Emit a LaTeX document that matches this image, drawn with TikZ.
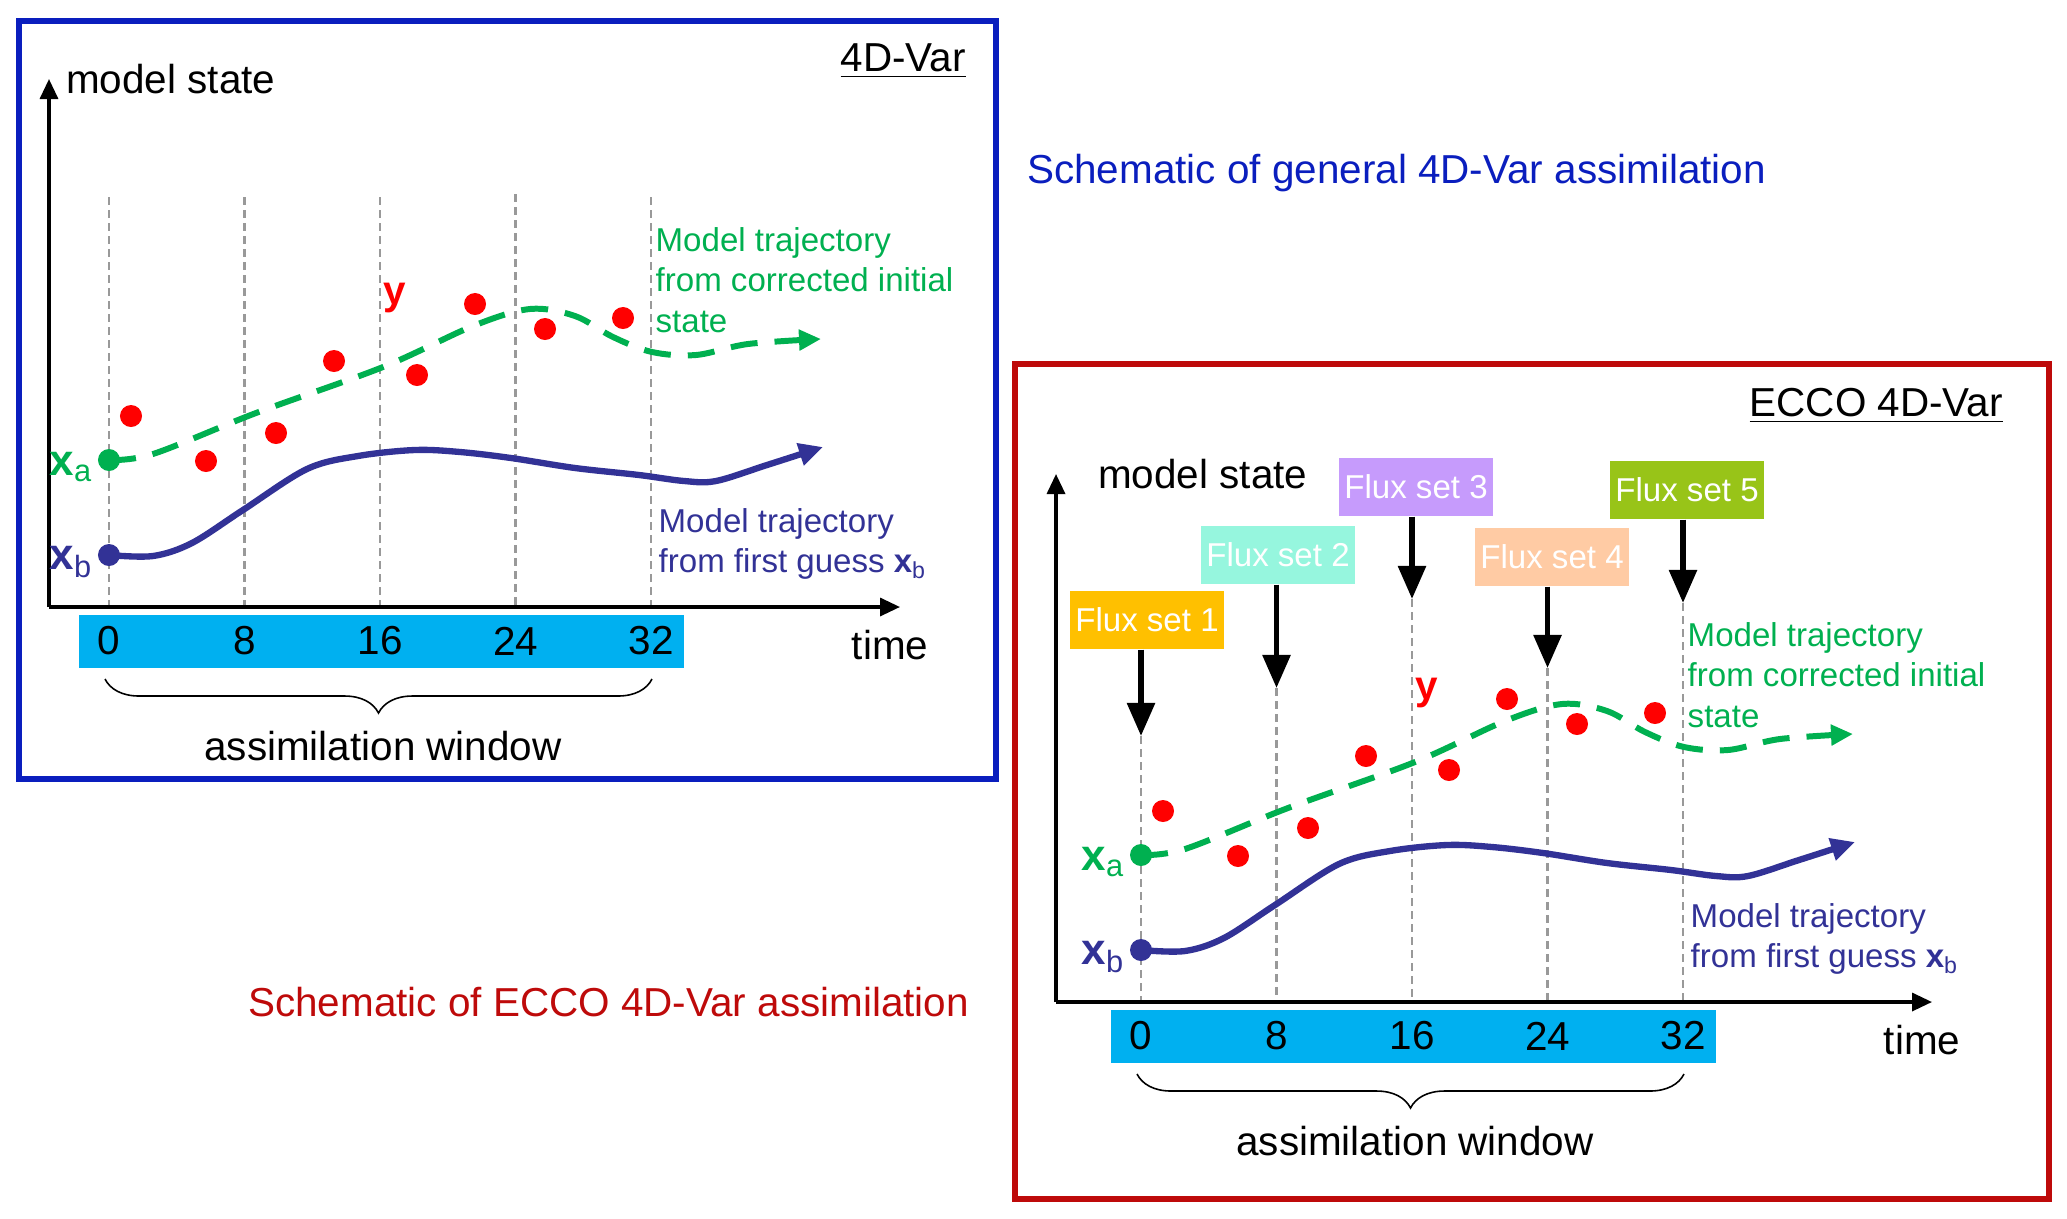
\documentclass[tikz,border=0pt]{standalone}
\usepackage{fontspec}
\setmainfont{Liberation Sans}
\usetikzlibrary{arrows.meta,positioning,decorations.pathreplacing}

\definecolor{frameblue}{RGB}{10,30,190}
\definecolor{framered}{RGB}{190,10,10}
\definecolor{trajgreen}{RGB}{0,176,80}
\definecolor{trajblue}{RGB}{50,50,150}
\definecolor{barcyan}{RGB}{0,176,240}
\definecolor{obsred}{RGB}{255,0,0}
\definecolor{fluxone}{RGB}{255,192,0}
\definecolor{fluxtwo}{RGB}{150,246,222}
\definecolor{fluxthree}{RGB}{198,155,252}
\definecolor{fluxfour}{RGB}{255,203,164}
\definecolor{fluxfive}{RGB}{152,196,24}

\newcommand{\bigsize}{\fontsize{11.5}{13.5}\selectfont}
\newcommand{\smallsize}{\fontsize{9.4}{11.5}\selectfont}

\tikzset{
	axis/.style={line width=0.95pt,-{Triangle[width=0.18cm,length=0.2cm]}},
	vline/.style={black!40,line width=0.75pt,dash pattern=on 0.08cm off 0.05cm},
	greentraj/.style={trajgreen,line width=1.7pt,dash pattern=on 0.27cm off 0.17cm,-{Triangle[width=0.2cm,length=0.22cm]}},
	bluetraj/.style={trajblue,line width=1.8pt,-{Triangle[width=0.22cm,length=0.24cm]}},
	startdot/.style={circle,inner sep=0pt,minimum size=0.22cm},
	obsdot/.style={circle,fill=obsred,inner sep=0pt,minimum size=0.22cm},
	bigtext/.style={font=\bigsize,inner sep=1pt},
	smalltext/.style={font=\smallsize,align=left,inner sep=0pt},
	startlabel/.style={font=\fontsize{12.5}{14}\selectfont,inner sep=1pt},
	fluxbox/.style={font=\smallsize,text=white,minimum width=1.54cm,minimum height=0.58cm,inner sep=0pt},
	fluxarrow/.style={line width=1.6pt,-{Triangle[width=0.27cm,length=0.33cm]}},
	windowbrace/.style={decorate,decoration={brace,mirror,amplitude=0.34cm},line width=0.45pt},
	frame/.style={line width=1.7pt}
}

% one schematic panel, origin at x_a; #2 = x of the state axis, #3 = tops of the time lines
\newcommand{\assimpanel}[3]{%
	\coordinate (#1origin) at (#2,147);
	\coordinate (#1ytop) at (#2,-381);
	\coordinate (#1xend) at (791,147);
	\foreach \yy [count=\i from 0] in {#3}{
		\coordinate (#1v\i) at (135.5*\i,\yy);
		\draw[vline] (#1v\i) -- (135.5*\i,147);
	}
	\fill[barcyan] (-30,155) rectangle (575,208);
	\foreach \n [count=\i from 0] in {0,8,16,24,32}
		\node[bigtext] (#1num\i) at (135.5*\i,181) {\n};
	\draw[axis] (#1origin) -- (#1ytop);
	\draw[axis] (#1origin) -- (#1xend);
	\node[bigtext,anchor=west] (#1ylabel) at (-47,-381) {model state};
	\node[bigtext] (#1xlabel) at (781,185) {time};
	\coordinate (#1wleft) at (-4,219);
	\coordinate (#1wright) at (543,219);
	\draw[windowbrace] (#1wleft) -- (#1wright);
	\node[bigtext] (#1window) at (274,286) {assimilation window};
	\node[startdot,fill=trajgreen] (#1xa) at (0,0) {};
	\node[startdot,fill=trajblue] (#1xb) at (0,95) {};
	\node[startlabel,text=trajgreen,left=0pt of #1xa,yshift=-2pt] (#1xalabel) {\textbf{x}\textsubscript{a}};
	\node[startlabel,text=trajblue,left=0pt of #1xb,yshift=-2pt] (#1xblabel) {\textbf{x}\textsubscript{b}};
	\draw[bluetraj] plot[smooth,tension=0.55] coordinates {(#1xb.center) (44,96) (83,83) (134,50) (198,9) (249,-4) (306,-10) (351,-8) (402,-2) (466,8) (530,15) (575,21) (607,21) (658,5) (714,-13)};
	\draw[greentraj] plot[smooth,tension=0.55] coordinates {(#1xa.center) (44,-6) (147,-47) (274,-93) (364,-134) (421,-151) (466,-144) (504,-123) (543,-108) (587,-105) (639,-116) (712,-121)};
	\foreach \p [count=\i] in {(22,-44),(97,1),(167,-27),(225,-99),(308,-85),(366,-156),(436,-131),(514,-142)}
		\node[obsdot] (#1obs\i) at \p {};
	\node[bigtext,text=obsred,font=\bigsize\bfseries] (#1obslabel) at (286,-162) {y};
	\node[smalltext,text=trajgreen,anchor=west] (#1greentext) at (546,-180) {Model trajectory\\from corrected initial\\state};
	\node[smalltext,text=trajblue,anchor=west] (#1bluetext) at (549,84) {Model trajectory\\from first guess \textbf{x}\textsubscript{b}};
}

\begin{document}
\begin{tikzpicture}[x=0.01cm,y=-0.01cm]
	\useasboundingbox (0,0) rectangle (2067,1218);

	\draw[frameblue,frame] (19,21) rectangle (996,779);
	\draw[framered,frame] (1015,364) rectangle (2049,1199);
	\node[bigtext,anchor=base east] (lefttitle) at (970,71) {\underline{4D-Var}};
	\node[bigtext,anchor=base east] (righttitle) at (2007,416) {\underline{ECCO 4D-Var}};
	\node[bigtext,text=frameblue,anchor=west] (leftcaption) at (1023,173) {Schematic of general 4D-Var assimilation};
	\node[bigtext,text=framered,anchor=west] (rightcaption) at (244,1002) {Schematic of ECCO 4D-Var assimilation};

	\begin{scope}[shift={(109,460)}]
		\assimpanel{l}{-60}{-263,-263,-263,-266,-263}
	\end{scope}

	\begin{scope}[shift={(1141,855)}]
		\assimpanel{r}{-85}{-119,-167,-256,-187,-252}
		% flux sets above the time lines
		\node[fluxbox,fill=fluxone] (flux0) at (6,-235) {Flux set 1};
		\node[fluxbox,fill=fluxtwo] (flux1) at (137,-300) {Flux set 2};
		\node[fluxbox,fill=fluxthree] (flux2) at (275,-368) {Flux set 3};
		\node[fluxbox,fill=fluxfour] (flux3) at (411,-298) {Flux set 4};
		\node[fluxbox,fill=fluxfive] (flux4) at (546,-365) {Flux set 5};
		\foreach \i in {0,...,4}
			\draw[fluxarrow] (rv\i |- flux\i.south) -- (rv\i);
	\end{scope}
\end{tikzpicture}
\end{document}
